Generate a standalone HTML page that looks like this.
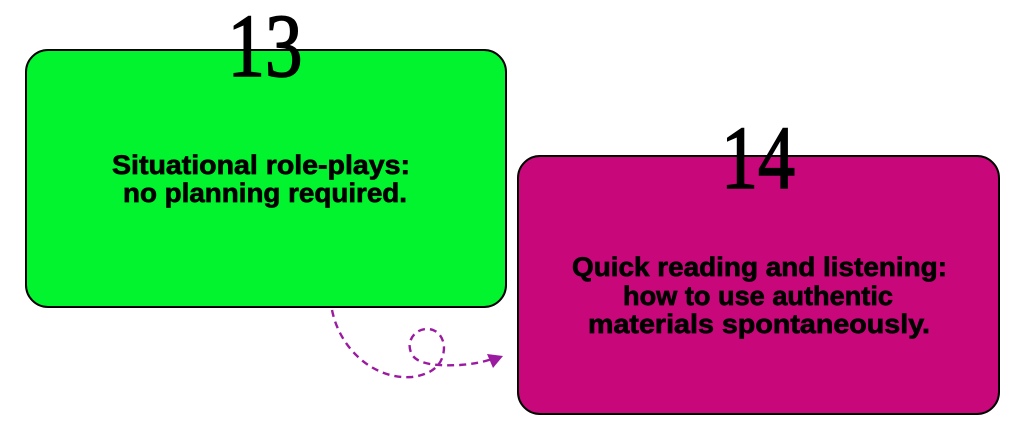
<!DOCTYPE html>
<html>
<head>
<meta charset="utf-8">
<style>
  html, body { margin: 0; padding: 0; background: #ffffff; }
  body { width: 1024px; height: 429px; overflow: hidden; }
  svg { display: block; }
  .lbl { font-family: "Liberation Sans", Arial, sans-serif; font-weight: bold; font-size: 26.5px; fill: #000; stroke: #000; stroke-width: 0.7px; }
  .num { font-family: "Liberation Serif", "Times New Roman", serif; font-size: 90px; fill: #000; stroke: #000; stroke-width: 1.6px; }
</style>
</head>
<body>
<svg width="1024" height="429" viewBox="0 0 1024 429" xmlns="http://www.w3.org/2000/svg">
  <!-- green box -->
  <rect x="26" y="50" width="480" height="257" rx="22" ry="22" fill="#02F42E" stroke="#000" stroke-width="2"/>
  <!-- magenta box -->
  <rect x="518" y="156" width="481" height="258" rx="22" ry="22" fill="#C8077A" stroke="#000" stroke-width="2"/>

  <!-- numbers -->
  <text class="num" x="265" y="76" text-anchor="middle" textLength="75" lengthAdjust="spacingAndGlyphs">13</text>
  <text class="num" x="758" y="188" text-anchor="middle" textLength="74" lengthAdjust="spacingAndGlyphs">14</text>

  <!-- green text -->
  <text class="lbl" x="261" y="174" text-anchor="middle" textLength="298" lengthAdjust="spacingAndGlyphs">Situational role-plays:</text>
  <text class="lbl" x="265" y="202" text-anchor="middle" textLength="284" lengthAdjust="spacingAndGlyphs">no planning required.</text>

  <!-- magenta text -->
  <text class="lbl" x="759.5" y="276" text-anchor="middle" textLength="375" lengthAdjust="spacingAndGlyphs">Quick reading and listening:</text>
  <text class="lbl" x="758" y="305" text-anchor="middle" textLength="270" lengthAdjust="spacingAndGlyphs">how to use authentic</text>
  <text class="lbl" x="759" y="333" text-anchor="middle" textLength="342" lengthAdjust="spacingAndGlyphs">materials spontaneously.</text>

  <!-- dashed connector -->
  <path d="M332,310 C340,350 375,380 412,377 C428,375 440,368 443,355 C447,340 438,328 426,329 C412,330 405,345 413,356 C420,365 440,366 460,365 C474,364 483,362 492,359"
        fill="none" stroke="#9A1BA0" stroke-width="2.4" stroke-dasharray="7 5"/>
  <polygon points="487,354 503,356 493,368" fill="#9A1BA0"/>
</svg>
</body>
</html>
